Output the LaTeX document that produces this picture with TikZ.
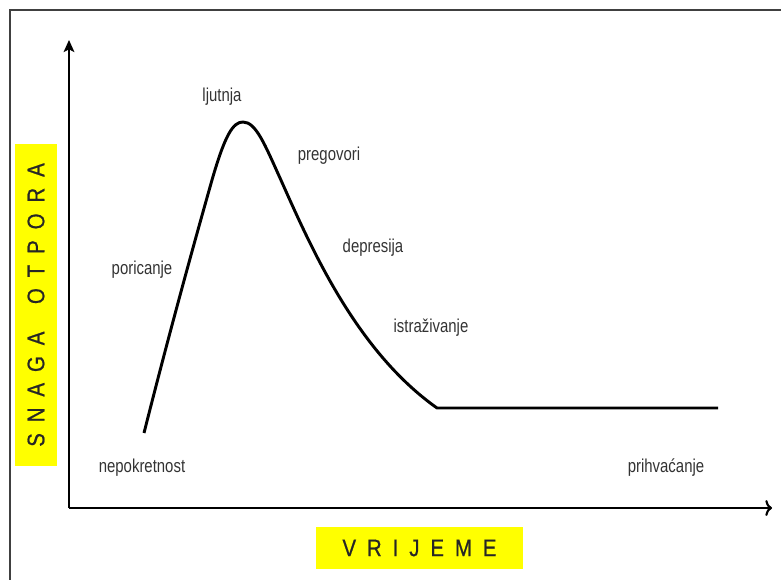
\documentclass[tikz,border=0pt]{standalone}
\usepackage{fontspec}
\setmainfont{Liberation Sans}
\newfontfamily\narrowfont[FakeStretch=0.8]{Liberation Sans}
\newfontfamily\axisfont[FakeStretch=0.85, FakeBold=0.7]{Liberation Sans}
\usetikzlibrary{arrows.meta}
\definecolor{labelgray}{HTML}{333333}
\definecolor{hiyellow}{HTML}{FFFF00}
\newcommand{\gapp}{\hspace{8.2pt}}
\tikzset{
  stagelabel/.style={font=\narrowfont\fontsize{14}{16}\selectfont, text=labelgray, inner sep=0pt},
  axislabel/.style={fill=hiyellow, font=\axisfont\fontsize{18}{20}\selectfont, text=black!85, inner sep=0pt},
  axisline/.style={line width=1.6pt, black},
}
\begin{document}
\begin{tikzpicture}[x=0.75pt, y=-0.75pt]
\useasboundingbox (0,0) rectangle (781,580);
% frame (left and top edges)
\draw[line width=1.5pt, black!75] (9.5,580) -- (9.5,10) -- (781,10);
% axes
\coordinate (O) at (69,508);
\coordinate (Ytop) at (69,40);
\coordinate (Xend) at (772,508);
\draw[axisline, -{Stealth[length=9pt, width=8pt, inset=2pt]}] (O) -- (Ytop);
\draw[axisline, -{To[length=5pt, width=12pt]}] (O) -- (Xend);
% curve
\coordinate (cstart) at (144,433);
\coordinate (cpeak) at (243,122);
\coordinate (cknee) at (437,408);
\coordinate (cend) at (718,408);
\draw[line width=2.2pt, black, line join=round]
  (cstart) .. controls (170,330) and (195,240) .. (212,180)
  .. controls (225,135) and (233,122) .. (cpeak)
  .. controls (256,122) and (265,145) .. (280,178)
  .. controls (310,245) and (355,350) .. (cknee)
  -- (cend);
% stage labels
\node[stagelabel] (ljutnja) at (222,97) {ljutnja};
\node[stagelabel] (poricanje) at (142,270) {poricanje};
\node[stagelabel] (pregovori) at (329,156) {pregovori};
\node[stagelabel] (depresija) at (373,248) {depresija};
\node[stagelabel] (istrazivanje) at (431,328) {istraživanje};
\node[stagelabel] (nepokretnost) at (142,468) {nepokretnost};
\node[stagelabel] (prihvacanje) at (666,468) {prihvaćanje};
% axis labels
\node[axislabel, minimum width=155pt, minimum height=31.5pt] (vrijeme) at (419.5,548)
  {V\gapp R\gapp I\gapp J\gapp E\gapp M\gapp E};
\node[axislabel, rotate=90, minimum width=241pt, minimum height=31.5pt] (snaga) at (36,305)
  {S\gapp N\gapp A\gapp G\gapp A\gapp\ \gapp O\gapp T\gapp P\gapp O\gapp R\gapp A};
\end{tikzpicture}
\end{document}
